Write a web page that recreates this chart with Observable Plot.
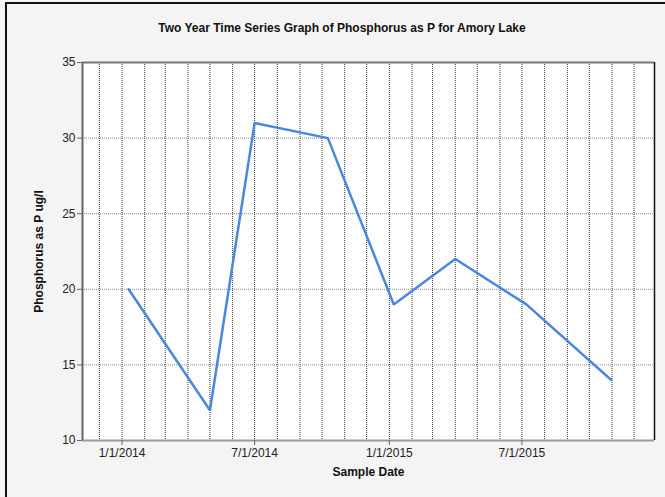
<!DOCTYPE html>
<html>
<head>
<meta charset="utf-8">
<script src="https://cdn.jsdelivr.net/npm/d3@7"></script>
<script src="https://cdn.jsdelivr.net/npm/@observablehq/plot@0.6"></script>
<style>
  html, body { margin: 0; padding: 0; background: #f4f4f4; }
  #wrap { position: relative; width: 665px; height: 497px; overflow: hidden; font-family: "Liberation Sans", Arial, sans-serif; }
  #border { position: absolute; left: 5px; top: 2px; width: 700px; height: 600px; border-left: 2px solid #111; border-top: 2px solid #111; }
  #title { position: absolute; left: 0; width: 684px; top: 21px; text-align: center; font-weight: bold; font-size: 12px; color: #111; }
  #chart { position: absolute; left: 0; top: 0; }
</style>
</head>
<body>
<div id="wrap">
  <div id="border"></div>
  <div id="title">Two Year Time Series Graph of Phosphorus as P for Amory Lake</div>
  <div id="chart"></div>
</div>
<script>
// Data
const sampleDates = ["2014-01-10", "2014-05-01", "2014-07-01", "2014-10-09", "2015-01-07", "2015-04-01", "2015-07-07", "2015-10-31"];
const phosphorus = [20, 12, 31, 30, 19, 22, 19, 14];
const xDomain = ["2013-11-08", "2015-12-29"];
const xTicks = ["2014-01-01", "2014-07-01", "2015-01-01", "2015-07-01"];
const yTicks = [10, 15, 20, 25, 30, 35];
const yGrid = [15, 20, 25, 30];
const yDomain = [10, 35];

const parse = d3.utcParse("%Y-%m-%d");
const data = sampleDates.map((d, i) => ({date: parse(d), value: phosphorus[i]}));
const domain = xDomain.map(parse);
const monthGrid = d3.utcMonths(domain[0], domain[1]);
const fmt = d3.utcFormat("%-m/%-d/%Y");

const chart = Plot.plot({
  width: 665,
  height: 497,
  marginLeft: 82,
  marginRight: 11,
  marginTop: 62,
  marginBottom: 57,
  style: {background: "transparent", fontFamily: "Liberation Sans, Arial, sans-serif", fontSize: "12px", color: "#222"},
  x: {type: "utc", domain: domain},
  y: {domain: yDomain},
  marks: [
    Plot.frame({fill: "white", stroke: null}),
    Plot.ruleX(monthGrid, {stroke: "#333", strokeDasharray: "1,1", strokeWidth: 1}),
    Plot.ruleY(yGrid, {stroke: "#888", strokeDasharray: "1,1", strokeWidth: 1}),
    Plot.line(data, {x: "date", y: "value", stroke: "#4a88dd", strokeWidth: 2.5, strokeLinejoin: "miter"}),
    Plot.ruleY([yDomain[1]], {stroke: "#777", strokeWidth: 2}),
    Plot.ruleY([yDomain[0]], {stroke: "#999", strokeWidth: 2}),
    Plot.ruleX([domain[0]], {stroke: "#666", strokeWidth: 2}),
    Plot.ruleX([domain[1]], {stroke: "#111", strokeWidth: 1.5}),
    Plot.axisX({ticks: xTicks.map(parse), tickFormat: fmt, tickSize: 5, tickPadding: 3, fontSize: 12, label: null, stroke: "#666", fill: "#222"}),
    Plot.axisY({ticks: yTicks, tickSize: 5, tickPadding: 2, fontSize: 12, label: null, stroke: "#666", fill: "#222"}),
    Plot.text(["Sample Date"], {frameAnchor: "bottom", dy: 35, fontWeight: "bold", fontSize: 12, fill: "#111"}),
    Plot.text(["Phosphorus as P ug/l"], {frameAnchor: "left", textAnchor: "middle", dx: -43, rotate: -90, fontWeight: "bold", fontSize: 12, fill: "#111"})
  ]
});
document.getElementById("chart").appendChild(chart);
</script>
</body>
</html>
